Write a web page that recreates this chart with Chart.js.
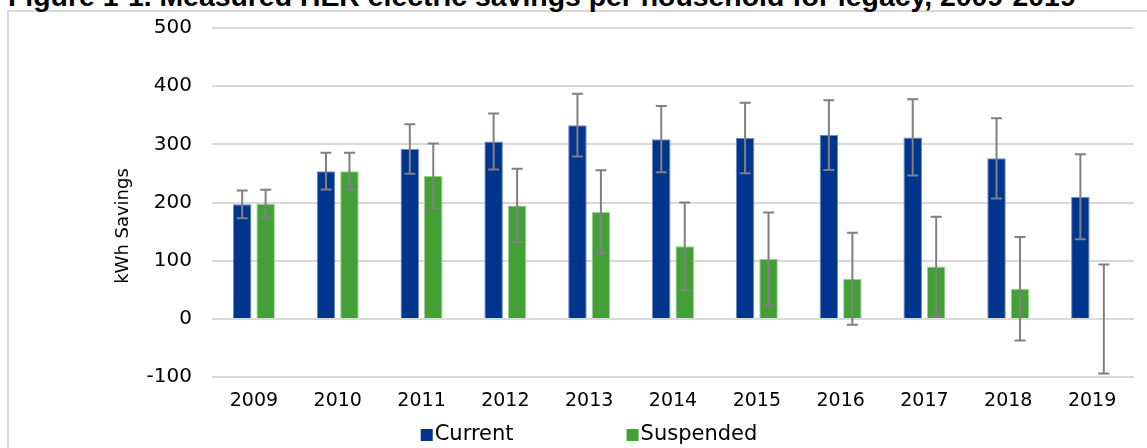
<!DOCTYPE html>
<html>
<head>
<meta charset="utf-8">
<script src="https://cdn.jsdelivr.net/npm/chart.js@4"></script>
<style>
  html, body { margin: 0; padding: 0; background: #fff; }
  body { width: 1147px; height: 448px; overflow: hidden; position: relative; }
  .chart-border {
    position: absolute; left: 7px; top: 10px;
    width: 1300px; height: 600px;
    border: 2px solid #d9d9d9; box-sizing: border-box;
  }
  .fig-title {
    position: absolute; left: 8px; top: -18px;
    font: bold 28.4px "Liberation Sans", Arial, sans-serif;
    line-height: 28px; white-space: nowrap; color: #000;
  }
  #savingsChart { position: absolute; left: 0; top: 0; }
</style>
</head>
<body>
<div class="chart-border"></div>
<div class="fig-title">Figure 1-1. Measured HER electric savings per household for legacy, 2009-2019</div>
<canvas id="savingsChart" width="1178" height="448"></canvas>

<script>
// ---------- data ----------
const years = ["2009", "2010", "2011", "2012", "2013", "2014", "2015", "2016", "2017", "2018", "2019"];
const currentSavings = [197, 254, 292, 305, 333, 309, 311, 316, 312, 276, 210];
const currentErr = [24, 31.5, 42.5, 48, 54, 57, 60.5, 60, 65.5, 69, 73];
const suspendedSavings = [198, 254, 246, 195, 184, 125, 103, 69, 90, 52, 0];
const suspendedErr = [24, 31.5, 55.5, 63, 71.5, 75, 80, 79, 85.5, 89, 93.5];
const yTicks = [-100, 0, 100, 200, 300, 400, 500];

const blue = "#00358E";
const green = "#43A036";
const errColor = "#808080";
const tickFont = "'DejaVu Sans', Verdana, sans-serif";

// Error bars + axis title + legend, drawn on top of the bars
const extrasPlugin = {
  id: "extras",
  afterDatasetsDraw(chart) {
    const { ctx, scales } = chart;
    const y = scales.y;
    const errs = [currentErr, suspendedErr];

    ctx.save();
    ctx.strokeStyle = errColor;
    ctx.lineWidth = 2;
    chart.data.datasets.forEach((ds, di) => {
      const meta = chart.getDatasetMeta(di);
      meta.data.forEach((bar, i) => {
        const v = ds.data[i];
        const e = errs[di][i];
        const yTop = y.getPixelForValue(v + e);
        const yBot = y.getPixelForValue(v - e);
        const x = bar.x;
        ctx.beginPath();
        ctx.moveTo(x, yTop);
        ctx.lineTo(x, yBot);
        ctx.moveTo(x - 5.5, yTop);
        ctx.lineTo(x + 5.5, yTop);
        ctx.moveTo(x - 5.5, yBot);
        ctx.lineTo(x + 5.5, yBot);
        ctx.stroke();
      });
    });
    ctx.restore();
  },
  afterDraw(chart) {
    const { ctx } = chart;

    // y axis title, centred on the chart box like the original
    ctx.save();
    ctx.translate(123, 226);
    ctx.rotate(-Math.PI / 2);
    ctx.fillStyle = "#000";
    ctx.font = "18px " + tickFont;
    ctx.textAlign = "center";
    ctx.textBaseline = "middle";
    ctx.fillText("kWh Savings", 0, 0);
    ctx.restore();

    // legend
    ctx.save();
    ctx.font = "21px " + tickFont;
    ctx.textBaseline = "middle";
    ctx.textAlign = "left";
    const box = 12;
    const gap = 2;
    const spacing = 113;
    const items = chart.data.datasets.map((ds) => ({
      label: ds.label,
      color: ds.backgroundColor,
      w: box + gap + ctx.measureText(ds.label).width,
    }));
    const total = items.reduce((s, it) => s + it.w, 0) + spacing * (items.length - 1);
    let x = chart.width / 2 - total / 2;
    const yMid = 435;
    items.forEach((it) => {
      ctx.fillStyle = it.color;
      ctx.fillRect(x, yMid - box / 2, box, box);
      ctx.fillStyle = "#000";
      ctx.fillText(it.label, x + box + gap, yMid);
      x += it.w + spacing;
    });
    ctx.restore();
  },
};

const ctx = document.getElementById("savingsChart").getContext("2d");
const savingsChart = new Chart(ctx, {
  type: "bar",
  data: {
    labels: years,
    datasets: [
      {
        label: "Current",
        data: currentSavings,
        backgroundColor: blue,
        borderColor: "#6f8cc4",
        borderWidth: 1,
        categoryPercentage: 0.56,
        barPercentage: 0.79,
      },
      {
        label: "Suspended",
        data: suspendedSavings,
        backgroundColor: green,
        borderColor: "#9fd090",
        borderWidth: 1,
        categoryPercentage: 0.56,
        barPercentage: 0.79,
      },
    ],
  },
  options: {
    responsive: false,
    animation: false,
    layout: {
      padding: { left: 0, right: 44, top: 28, bottom: 32 },
    },
    plugins: {
      legend: { display: false },
      tooltip: { enabled: false },
    },
    scales: {
      x: {
        grid: { display: false },
        border: { display: false },
        ticks: {
          color: "#000",
          padding: 4,
          font: { size: 19, family: tickFont },
        },
      },
      y: {
        min: -100,
        max: 500,
        afterFit(scale) {
          // fixed plot left edge; don't let tick padding push the top down
          scale.width = 212;
          scale.paddingTop = 10;
          scale.paddingBottom = 10;
        },
        afterBuildTicks(scale) {
          scale.ticks = yTicks.map((v) => ({ value: v }));
        },
        grid: {
          color: "#d9d9d9",
          lineWidth: 2,
          drawTicks: false,
        },
        border: { display: false },
        ticks: {
          color: "#000",
          padding: 20,
          font: { size: 20, family: tickFont },
        },
      },
    },
  },
  plugins: [extrasPlugin],
});
</script>
</body>
</html>
